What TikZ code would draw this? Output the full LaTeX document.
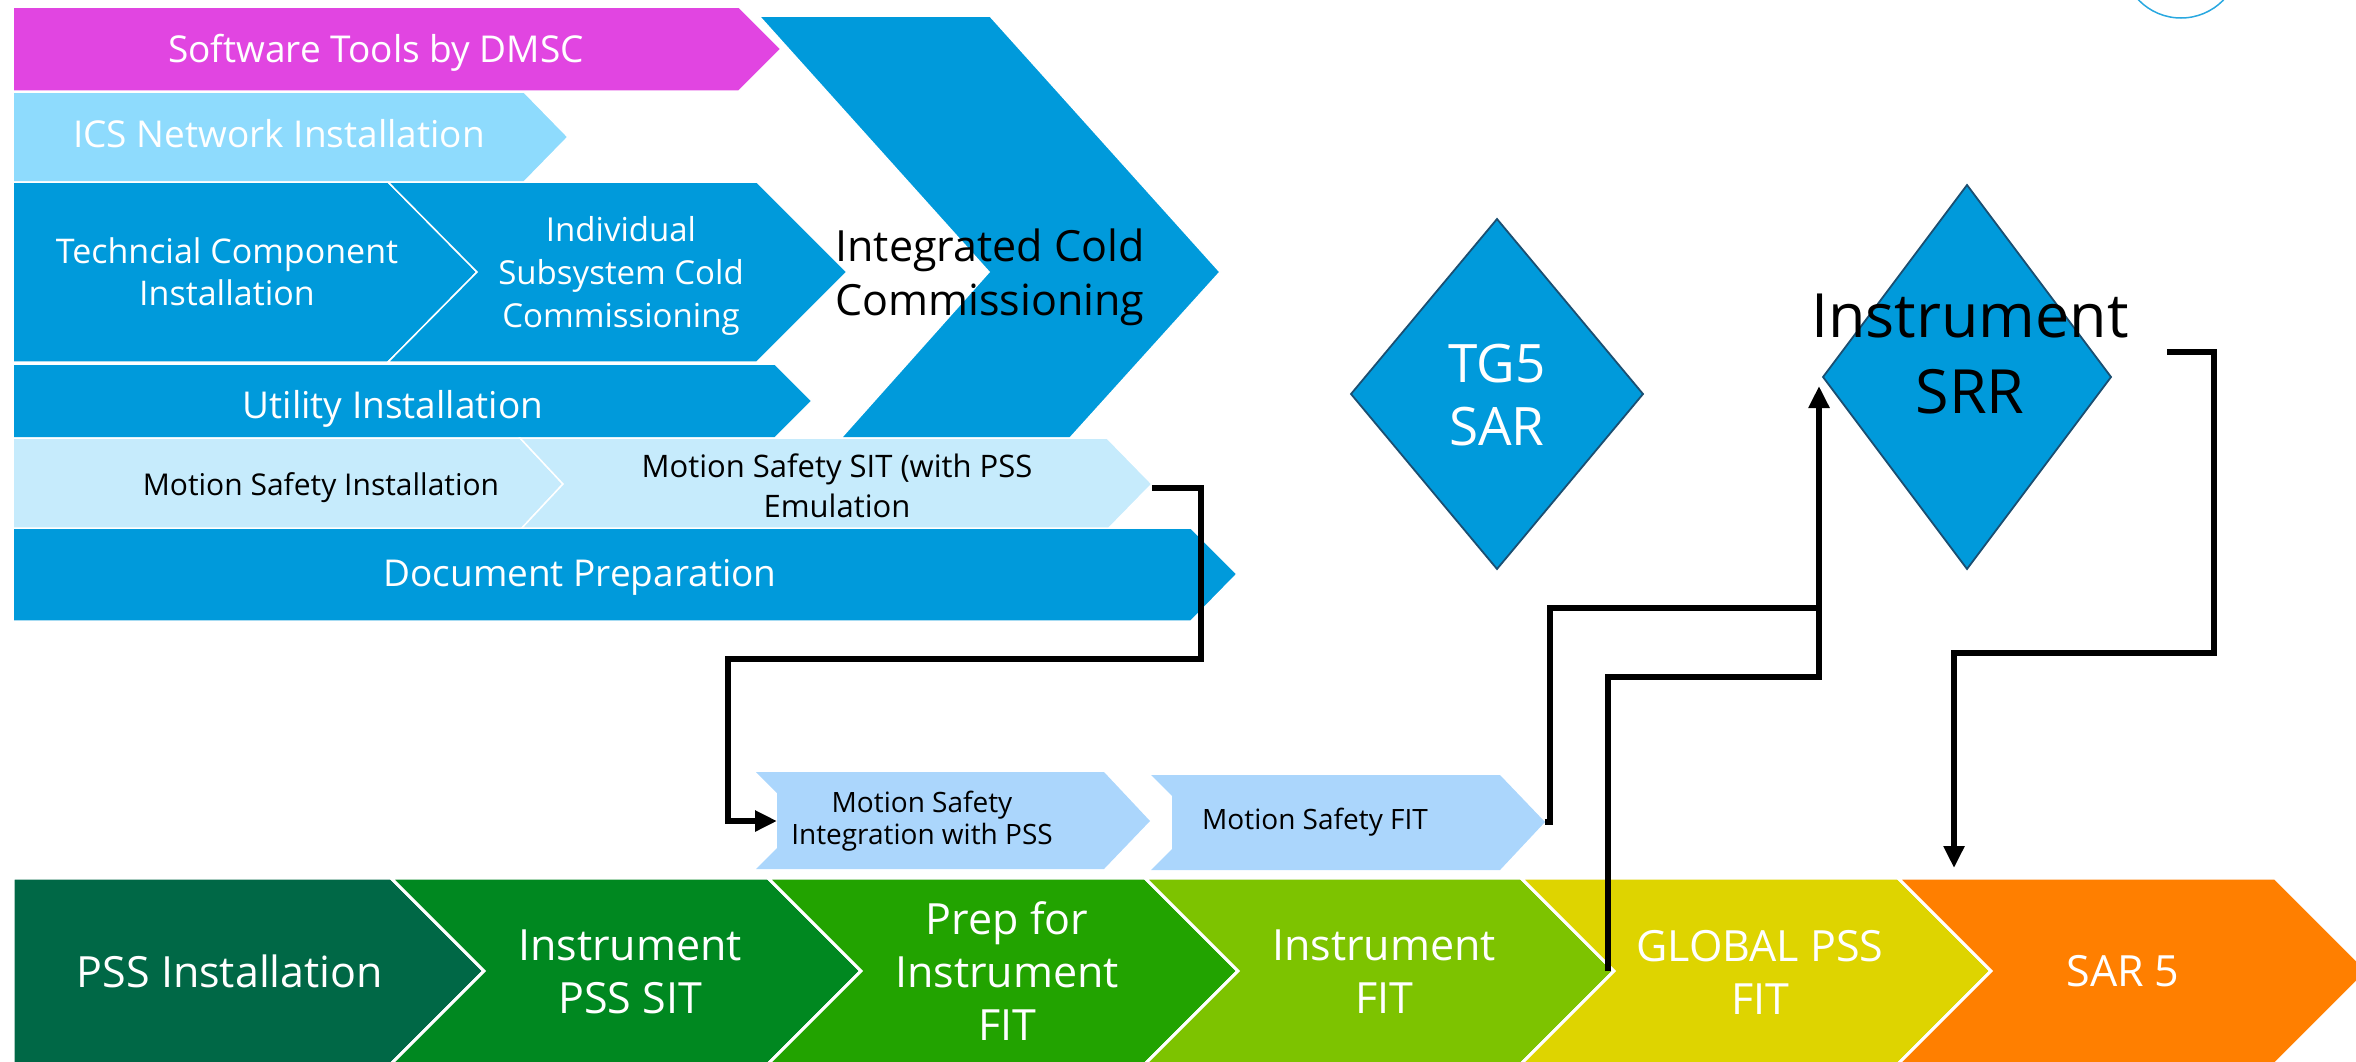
\documentclass[tikz,border=0pt]{standalone}
\usepackage{fontspec}
\setmainfont{Open Sans}
\usetikzlibrary{arrows.meta}
\definecolor{cMag}{HTML}{E145E1}
\definecolor{cIcs}{HTML}{8EDBFD}
\definecolor{cBlue}{HTML}{009ADB}
\definecolor{cMs}{HTML}{C6EBFC}
\definecolor{cMsb}{HTML}{ABD6FC}
\definecolor{cEdge}{HTML}{1B4F72}
\definecolor{cCirc}{HTML}{29A8E0}
\definecolor{gA}{HTML}{006846}
\definecolor{gB}{HTML}{008820}
\definecolor{gC}{HTML}{22A300}
\definecolor{gD}{HTML}{7DC300}
\definecolor{gE}{HTML}{DED400}
\definecolor{gF}{HTML}{FF7F00}
\newcommand\myfs[2]{\fontsize{#1}{#2}\selectfont}
\begin{document}
\begin{tikzpicture}[x=1pt,y=-1pt,
  topshape/.style={draw=white,line width=1.5pt,line join=miter},
  botshape/.style={draw=white,line width=3pt,line join=miter},
  dia/.style={fill=cBlue,draw=cEdge,line width=1.8pt,line join=miter},
  wtxt/.style={inner sep=0pt,align=center,text=white},
  btxt/.style={inner sep=0pt,align=center,text=black},
  conn/.style={draw=black,line width=6.5pt,line join=miter},
  tip/.style={-{Triangle[length=22pt,width=20pt]}}]
\useasboundingbox (0,0) rectangle (2356,1061);
\clip (0,0) rectangle (2356,1061);
% top-right circle fragment
\draw[cCirc,line width=1.5pt] (2181,-41) circle (59pt);
% upper block
\fill[cMag,topshape] (13,7) -- (739,7) -- (781,49) -- (739,91) -- (13,91) -- cycle;
\fill[cIcs,topshape] (13,92) -- (524,92) -- (568,137) -- (524,182) -- (13,182) -- cycle;
\fill[cBlue,topshape] (13,182) -- (388,182) -- (477,272) -- (388,362) -- (13,362) -- cycle;
\fill[cBlue,topshape] (388,182) -- (757,182) -- (847,272) -- (757,362) -- (388,362) -- (477,272) -- cycle;
\fill[cBlue,topshape] (13,364) -- (775,364) -- (812,401) -- (775,438) -- (13,438) -- cycle;
\fill[cBlue,topshape] (759,16) -- (990,16) -- (1220,272) -- (1070,438) -- (841,438) -- (989,272) -- cycle;
\fill[cMs,topshape] (13,438) -- (520,438) -- (563,484) -- (520,530) -- (13,530) -- cycle;
\fill[cMs,topshape] (520,438) -- (1107,438) -- (1152,484) -- (1107,530) -- (520,530) -- (563,484) -- cycle;
\fill[cBlue,topshape] (13,528) -- (1191,528) -- (1237,574) -- (1191,621) -- (13,621) -- cycle;
% middle small chevrons
\fill[cMsb] (756,772) -- (1104,772) -- (1150,821) -- (1104,869) -- (756,869) -- (777,848) -- (777,793) -- cycle;
\fill[cMsb] (1151,775) -- (1500,775) -- (1545,822) -- (1500,870) -- (1151,870) -- (1172,849) -- (1172,796) -- cycle;
% bottom row
\fill[gA,botshape] (13,878) -- (391,878) -- (484,971) -- (391,1064) -- (13,1064) -- cycle;
\fill[gB,botshape] (391,878) -- (768,878) -- (861,971) -- (768,1064) -- (391,1064) -- (484,971) -- cycle;
\fill[gC,botshape] (768,878) -- (1145,878) -- (1238,971) -- (1145,1064) -- (768,1064) -- (861,971) -- cycle;
\fill[gD,botshape] (1145,878) -- (1521,878) -- (1614,971) -- (1521,1064) -- (1145,1064) -- (1238,971) -- cycle;
\fill[gE,botshape] (1521,878) -- (1898,878) -- (1991,971) -- (1898,1064) -- (1521,1064) -- (1614,971) -- cycle;
\fill[gF,botshape] (1898,878) -- (2275,878) -- (2368,971) -- (2275,1064) -- (1898,1064) -- (1991,971) -- cycle;
% diamonds
\draw[dia] (1497,219) -- (1643,394) -- (1497,569) -- (1351,394) -- cycle;
\draw[dia] (1967,185) -- (2111,377) -- (1967,569) -- (1823,377) -- cycle;
% texts
\node[wtxt,font=\myfs{37}{44}] (swt) at (376,53) {Software Tools by DMSC};
\node[wtxt,font=\myfs{37}{44}] (ics) at (279,134) {ICS Network Installation};
\node[wtxt,font=\myfs{34}{42}] (tci) at (227,272) {Techncial Component\\Installation};
\node[wtxt,font=\myfs{33}{43}] (isc) at (621,276) {Individual\\Subsystem Cold\\Commissioning};
\node[btxt,font=\myfs{43}{54}] (icc) at (990,277) {Integrated Cold\\Commissioning};
\node[wtxt,font=\myfs{37}{44}] (uti) at (393,409) {Utility Installation};
\node[btxt,font=\myfs{30}{36}] (msi) at (321,488) {Motion Safety Installation};
\node[btxt,font=\myfs{31}{40}] (mss) at (837,486) {Motion Safety SIT (with PSS\\Emulation};
\node[wtxt,font=\myfs{37}{44}] (doc) at (580,577) {Document Preparation};
\node[btxt,font=\myfs{28}{32}] (msint) at (922,821) {Motion Safety\\Integration with PSS};
\node[btxt,font=\myfs{28}{32},anchor=west] (msfit) at (1202,822) {Motion Safety FIT};
\node[wtxt,font=\myfs{53}{63}] (tg5) at (1497,395) {TG5\\SAR};
\node[btxt,font=\myfs{61}{76}] (srr) at (1970,354) {Instrument\\SRR};
\node[wtxt,font=\myfs{43}{53}] (pss) at (230,971) {PSS Installation};
\node[wtxt,font=\myfs{43}{53}] (ipss) at (630,972) {Instrument\\PSS SIT};
\node[wtxt,font=\myfs{43}{53}] (prep) at (1007,971) {Prep for\\Instrument\\FIT};
\node[wtxt,font=\myfs{43}{53}] (ifit) at (1384,972) {Instrument\\FIT};
\node[wtxt,font=\myfs{43}{53}] (gfit) at (1760,972) {GLOBAL PSS\\FIT};
\node[wtxt,font=\myfs{43}{53}] (sar) at (2123,971) {SAR 5};
% connector end points
\coordinate (sitTip) at (1152,488);
\coordinate (intIn) at (777,821);
\coordinate (fitTip) at (1545,822);
\coordinate (srrIn) at (1819,386);
\coordinate (ifitTip) at (1608,971);
\coordinate (srrOut) at (2167,352);
\coordinate (sarIn) at (1954,868);
% connectors
\draw[conn,tip] (sitTip) -- (1201,488) |- (728,659) |- (intIn);
\draw[conn] (ifitTip) -- (1608,677) -| (1819,608);
\draw[conn,tip] (fitTip) -- (1550,822) -- (1550,608) -| (srrIn);
\draw[conn,tip] (srrOut) -- (2214,352) |- (1954,653) -- (sarIn);
\end{tikzpicture}
\end{document}
